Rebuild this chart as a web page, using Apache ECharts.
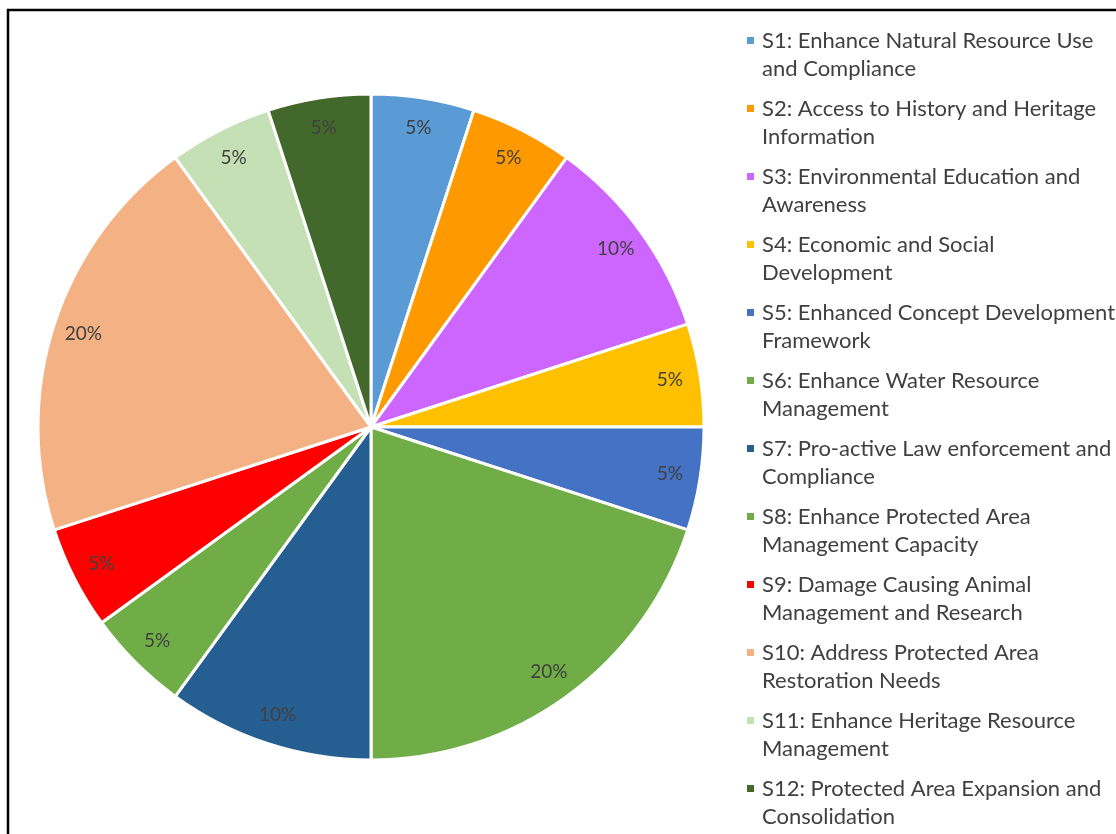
<!DOCTYPE html>
<html><head><meta charset="utf-8">
<script src="https://cdn.jsdelivr.net/npm/echarts@6/dist/echarts.min.js"></script>
<style>html,body{margin:0;padding:0;background:#fff}#c{width:1116px;height:834px}</style>
</head><body><div id="c"></div>
<script>
const categories = [
  "S1: Enhance Natural Resource Use\nand Compliance",
  "S2: Access to History and Heritage\nInformation",
  "S3: Environmental Education and\nAwareness",
  "S4: Economic and Social\nDevelopment",
  "S5: Enhanced Concept Development\nFramework",
  "S6: Enhance Water Resource\nManagement",
  "S7: Pro-active Law enforcement and\nCompliance",
  "S8: Enhance Protected Area\nManagement Capacity",
  "S9: Damage Causing Animal\nManagement and Research",
  "S10: Address Protected Area\nRestoration Needs",
  "S11: Enhance Heritage Resource\nManagement",
  "S12: Protected Area Expansion and\nConsolidation"
];
// slices drawn clockwise from 12 o'clock
const sliceOrder = [0, 1, 2, 3, 4, 7, 6, 5, 8, 9, 10, 11];
const values = [5, 5, 10, 5, 5, 5, 10, 20, 5, 20, 5, 5];
const colors = ["#5B9BD5", "#FF9900", "#CC66FF", "#FFC000", "#4472C4", "#70AD47",
                "#255E91", "#70AD47", "#FF0000", "#F4B183", "#C5E0B4", "#43682B"];

const data = sliceOrder.map(i => ({ name: categories[i], value: values[i], itemStyle: { color: colors[i] } }));

const chart = echarts.init(document.getElementById('c'));
chart.setOption({
  animation: false,
  graphic: [{
    type: 'rect', shape: { x: 8, y: 10, width: 1120, height: 840 },
    style: { fill: 'none', stroke: '#000', lineWidth: 2.5 }, silent: true, z: 100
  }],
  legend: {
    orient: 'vertical', left: 745, top: 26, height: 808, padding: 0,
    data: categories,
    icon: 'path://M0,0h0.01v0.01h-0.01z M0,9h9v9h-9z M11,56h0.01v0.01h-0.01z',
    itemWidth: 11.01, itemHeight: 56.01, itemGap: 10,
    textStyle: { fontFamily: 'Lato', fontSize: 22, color: '#404040', lineHeight: 28 },
    selectedMode: false
  },
  series: [{
    type: 'pie', center: [371, 427], radius: [0, 333], startAngle: 90, clockwise: true,
    data: data, silent: true,
    itemStyle: { borderColor: '#fff', borderWidth: 3 },
    label: { show: false }, labelLine: { show: false }
  }, {
    type: 'pie', center: [371, 427], radius: [266, 333], startAngle: 90, clockwise: true,
    data: data.map(d => ({ name: d.name, value: d.value })), silent: true,
    itemStyle: { color: 'rgba(0,0,0,0)', borderWidth: 0 },
    label: { show: true, position: 'inside', formatter: '{d}%', fontFamily: 'Lato', fontSize: 19, color: '#404040' },
    labelLine: { show: false }
  }]
});
</script></body></html>
